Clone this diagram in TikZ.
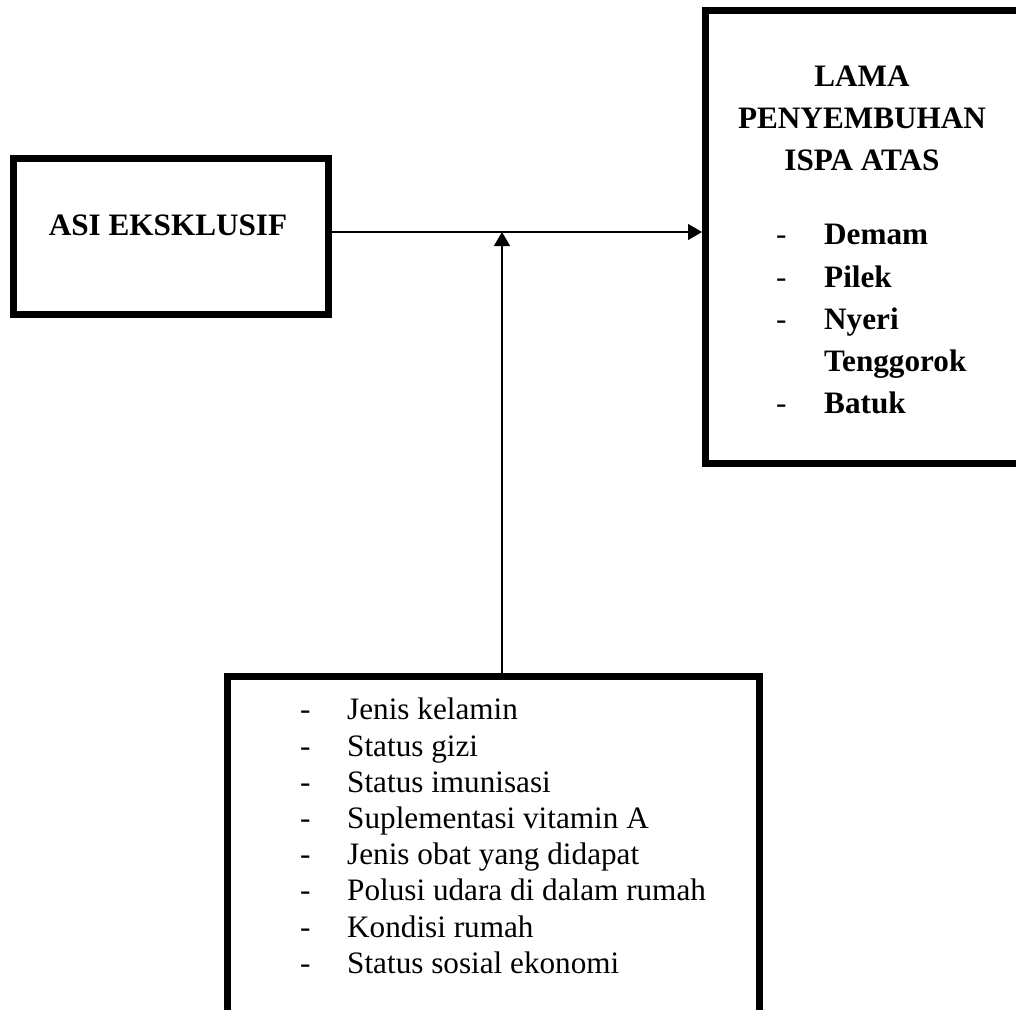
\documentclass[tikz,border=0pt]{standalone}
\usepackage{fontspec}
\setmainfont{Liberation Serif}
\usetikzlibrary{arrows.meta}
\begin{document}
\begin{tikzpicture}[x=1pt,y=-1pt,
  box/.style={draw=black, line width=7pt, inner sep=0pt, fill=white},
  conn/.style={line width=1.3pt, -{Triangle[length=14pt,width=16pt]}},
  txt/.style={inner sep=0pt, font=\fontsize{31.2}{36.3}\selectfont},
  btxt/.style={inner sep=0pt, font=\fontsize{31.2}{36.3}\selectfont\bfseries}]
\useasboundingbox (0,0) rectangle (1016,1009);
\fill[white] (0,0) rectangle (1016,1009);
\clip (0,0) rectangle (1016,1009);

% boxes
\node[box, minimum width=315pt, minimum height=156pt] (asi) at (171,236.5) {};
\node[box, minimum width=313.5pt, minimum height=453pt] (lama) at (862.25,236.5) {};
\node[box, minimum width=532pt, minimum height=339pt] (faktor) at (493,845.5) {};

% left box text
\node[btxt, anchor=base] (asitext) at (168,235) {ASI EKSKLUSIF};

% right box text
\node[btxt, anchor=base] (t1) at (862,86) {LAMA};
\node[btxt, anchor=base] (t2) at (862,128) {PENYEMBUHAN};
\node[btxt, anchor=base] (t3) at (862,170) {ISPA ATAS};
\foreach \y/\d/\t [count=\i] in {244/-/Demam, 287/-/Pilek, 329/-/Nyeri, 371/{}/Tenggorok, 413/-/Batuk}{
  \node[txt, anchor=base west] (rd\i) at (776,\y) {\d};
  \node[btxt, anchor=base west] (rt\i) at (824,\y) {\t};
}

% bottom box text
\foreach \y/\t [count=\i] in {719/Jenis kelamin, 756/Status gizi, 792/Status imunisasi, 828/Suplementasi vitamin A, 864/Jenis obat yang didapat, 900/Polusi udara di dalam rumah, 937/Kondisi rumah, 973/Status sosial ekonomi}{
  \node[txt, anchor=base west] (bd\i) at (300,\y) {-};
  \node[txt, anchor=base west] (bt\i) at (347,\y) {\t};
}

% connectors
\coordinate (j) at (502,232);
\draw[conn] (asi.east |- j) -- (lama.west |- j);
\draw[conn] (faktor.north -| j) -- (j);
\end{tikzpicture}
\end{document}
